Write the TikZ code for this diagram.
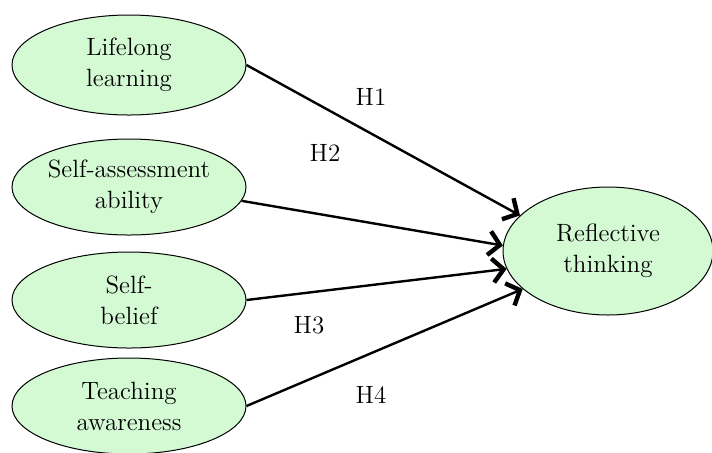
\documentclass[tikz,border=0pt]{standalone}
\usepackage{tikz}
\usetikzlibrary{arrows.meta, positioning, shapes.geometric}
\definecolor{ConstructFill}{HTML}{D4FAD4}

\begin{document}
\begin{tikzpicture}[
    x=0.5pt, y=-0.5pt,
    construct/.style={
      ellipse, draw=black, line width=0.5pt, fill=ConstructFill, inner sep=0pt,
      minimum width=117pt, minimum height=48pt, align=center,
      font=\fontsize{12.5}{15.5}\selectfont
    },
    rel/.style={-{Straight Barb[length=5.5pt, width=12pt, line width=2.2pt]}, line width=1.2pt},
    hyp/.style={font=\fontsize{12.5}{14}\selectfont}
  ]
    \useasboundingbox (0,0) rectangle (712,452);

    \node[construct, minimum height=50pt] (ll) at (129,65) {Lifelong\\learning};
    \node[construct] (sa) at (129,187) {Self-assessment\\ability};
    \node[construct] (sb) at (129,300) {Self-\\belief};
    \node[construct] (ta) at (129,406) {Teaching\\awareness};
    \node[construct, minimum width=105pt, minimum height=64pt] (rt) at (608,251) {Reflective\\thinking};

    \draw[rel] (ll.east) -- (rt.158);
    \draw[rel] (sa.-7) -- (rt.177);
    \draw[rel] (sb.east) -- (rt.-170);
    \draw[rel] (ta.east) -- (rt.-156);

    \node[hyp] (h1) at (371,97) {H1};
    \node[hyp] (h2) at (325,153) {H2};
    \node[hyp] (h3) at (309,325) {H3};
    \node[hyp] (h4) at (371,395) {H4};
  \end{tikzpicture}
\end{document}
